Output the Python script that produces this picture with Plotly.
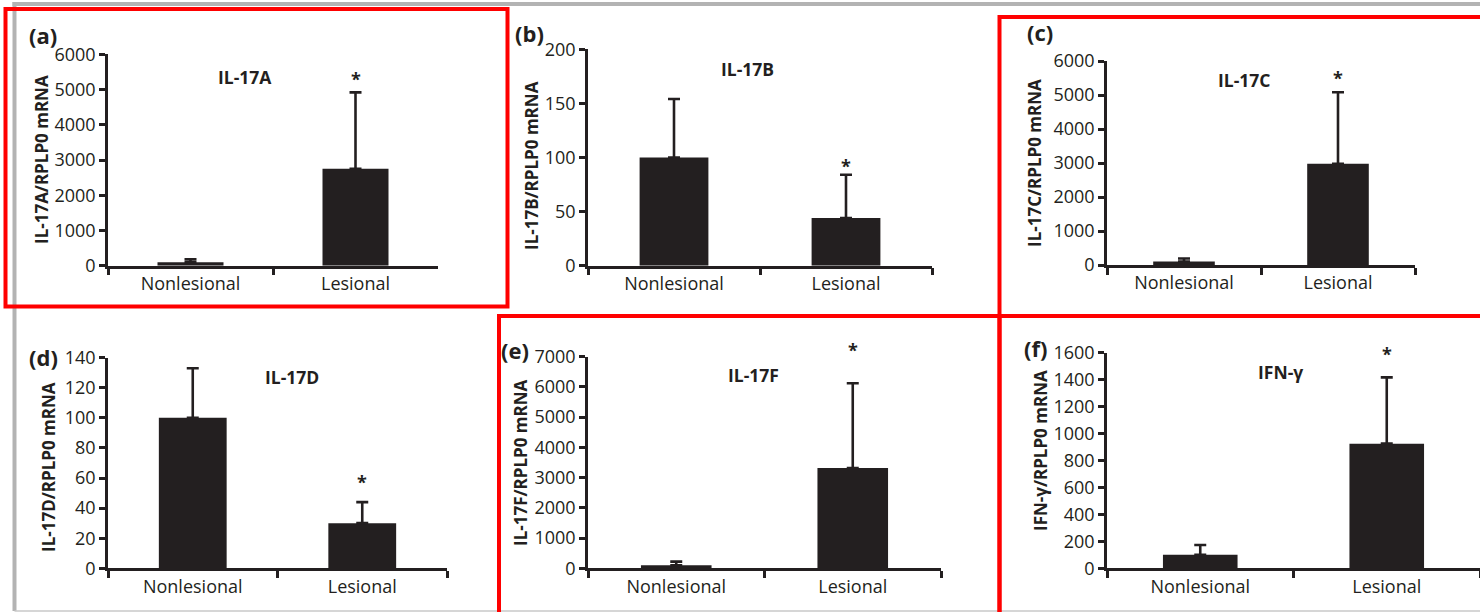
import plotly.graph_objects as go

W, H = 1480, 612

# ---------------- data ----------------
categories = ["Nonlesional", "Lesional"]
panel_letters = ["(a)", "(b)", "(c)", "(d)", "(e)", "(f)"]
gene_titles = ["IL-17A", "IL-17B", "IL-17C", "IL-17D", "IL-17F", "IFN-γ"]
y_titles = ["IL-17A/RPLP0 mRNA", "IL-17B/RPLP0 mRNA", "IL-17C/RPLP0 mRNA",
            "IL-17D/RPLP0 mRNA", "IL-17F/RPLP0 mRNA", "IFN-γ/RPLP0 mRNA"]
il17a_mean = [100, 2750]
il17a_sd = [80, 2170]
il17b_mean = [100, 44]
il17b_sd = [54, 40]
il17c_mean = [100, 2980]
il17c_sd = [90, 2100]
il17d_mean = [100, 30]
il17d_sd = [33, 14]
il17f_mean = [100, 3320]
il17f_sd = [120, 2800]
ifng_mean = [100, 925]
ifng_sd = [73, 492]
star_y = [5420, 96, 5620, 60, 7360, 1620]
y_max = [6000, 200, 6000, 140, 7000, 1600]
y_dtick = [1000, 50, 1000, 20, 1000, 200]

means = [il17a_mean, il17b_mean, il17c_mean, il17d_mean, il17f_mean, ifng_mean]
sds = [il17a_sd, il17b_sd, il17c_sd, il17d_sd, il17f_sd, ifng_sd]

# ---------------- layout geometry (pixels) ----------------
# (x_left, x_right, y_zero, y_top)
geom = [(108, 438, 265.7, 54.3),
        (588, 932, 265.7, 49.3),
        (1107, 1415, 265.0, 61.0),
        (108, 447, 568.3, 357.7),
        (588, 941, 568.3, 356.7),
        (1107, 1480, 568.3, 352.7)]
title_pos = [(245, 77), (748, 69), (1244, 80), (292, 377), (753, 375), (1280, 372)]
letter_pos = [(43, 35), (529, 33), (1040, 32), (43, 357), (515, 350), (1035, 348)]
ytitle_pos = [(42, 160), (532, 166), (1035, 163), (48, 467), (520, 463), (1040, 451)]

INK = "#231f20"
FONT = "Open Sans"


def px(x):
    return x / W


def py(y):
    return 1 - y / H


fig = go.Figure()
annotations = []
shapes = []

for i in range(6):
    n = "" if i == 0 else str(i + 1)
    xl, xr, yz, yt = geom[i]
    fig.add_trace(go.Bar(
        x=categories, y=means[i],
        marker=dict(color=INK, line=dict(width=0)),
        error_y=dict(type="data", symmetric=False, array=sds[i],
                     arrayminus=[0, 0], color=INK, thickness=2.6, width=6),
        xaxis="x" + n, yaxis="y" + n, showlegend=False, hoverinfo="skip"))
    fig.update_layout(**{
        "xaxis" + n: dict(domain=[px(xl), min(px(xr), 1.0)], anchor="y" + n,
                          type="category", range=[-0.5, 1.5], automargin=False,
                          showline=True, linecolor=INK, linewidth=2.5,
                          ticks="outside", tickson="boundaries", ticklen=7,
                          tickwidth=2.5, tickcolor=INK, showgrid=False,
                          tickfont=dict(family=FONT, size=18, color=INK)),
        "yaxis" + n: dict(domain=[py(yz), py(yt)], anchor="x" + n,
                          range=[0, y_max[i]], dtick=y_dtick[i], tick0=0,
                          automargin=False,
                          showline=True, linecolor=INK, linewidth=2.5,
                          ticks="outside", ticklen=6, tickwidth=2.5,
                          tickcolor=INK, showgrid=False, zeroline=False,
                          tickfont=dict(family=FONT, size=18, color=INK)),
    })
    # significance star above the lesional bar (position scaled through the y axis range)
    annotations.append(dict(text="<b>*</b>", xref="x" + n, yref="y%s domain" % n,
                            x=categories[1], y=star_y[i] / y_max[i], showarrow=False,
                            xanchor="center", yanchor="middle", yshift=-4,
                            font=dict(family=FONT, size=18, color=INK)))
    # gene title
    annotations.append(dict(text="<b>%s</b>" % gene_titles[i], xref="paper", yref="paper",
                            x=px(title_pos[i][0]), y=py(title_pos[i][1]),
                            showarrow=False, xanchor="center", yanchor="middle",
                            font=dict(family=FONT, size=17.5, color=INK)))
    # panel letter
    annotations.append(dict(text="<b>%s</b>" % panel_letters[i], xref="paper", yref="paper",
                            x=px(letter_pos[i][0]), y=py(letter_pos[i][1]),
                            showarrow=False, xanchor="center", yanchor="middle",
                            font=dict(family=FONT, size=22, color=INK)))
    # y title
    annotations.append(dict(text="<b>%s</b>" % y_titles[i], xref="paper", yref="paper",
                            x=px(ytitle_pos[i][0]), y=py(ytitle_pos[i][1]),
                            showarrow=False, xanchor="center", yanchor="middle",
                            textangle=-90,
                            font=dict(family=FONT, size=17, color=INK)))

# outer gray frame
GRAY = "#b3b3b3"
shapes.append(dict(type="line", xref="paper", yref="paper", x0=px(12.5), x1=1.0,
                   y0=py(4), y1=py(4), line=dict(color=GRAY, width=4)))
shapes.append(dict(type="line", xref="paper", yref="paper", x0=px(14.5), x1=px(14.5),
                   y0=py(2), y1=py(611), line=dict(color=GRAY, width=4)))
shapes.append(dict(type="line", xref="paper", yref="paper", x0=px(14.5), x1=1.0,
                   y0=py(611), y1=py(611), line=dict(color="#c8c8c8", width=1.5)))

# red highlight boxes
RED = "#ff0000"
for (x0, x1, y0, y1) in [(5.5, 507.5, 9, 306.5), (999.5, 1484, 17, 316),
                         (499, 999.5, 316, 616), (999.5, 1484, 316, 616)]:
    shapes.append(dict(type="rect", xref="paper", yref="paper",
                       x0=px(x0), x1=px(x1), y0=py(y1), y1=py(y0),
                       line=dict(color=RED, width=4), fillcolor="rgba(0,0,0,0)"))

fig.update_layout(width=W, height=H,
                  margin=dict(l=0, r=0, t=0, b=0, pad=0, autoexpand=False),
                  paper_bgcolor="white", plot_bgcolor="white",
                  bargap=0.6, annotations=annotations, shapes=shapes,
                  font=dict(family=FONT, color=INK))

fig.write_html("out.html",
               config={"displayModeBar": False},
               post_script="document.body.style.margin='0';document.body.style.overflow='hidden';")
